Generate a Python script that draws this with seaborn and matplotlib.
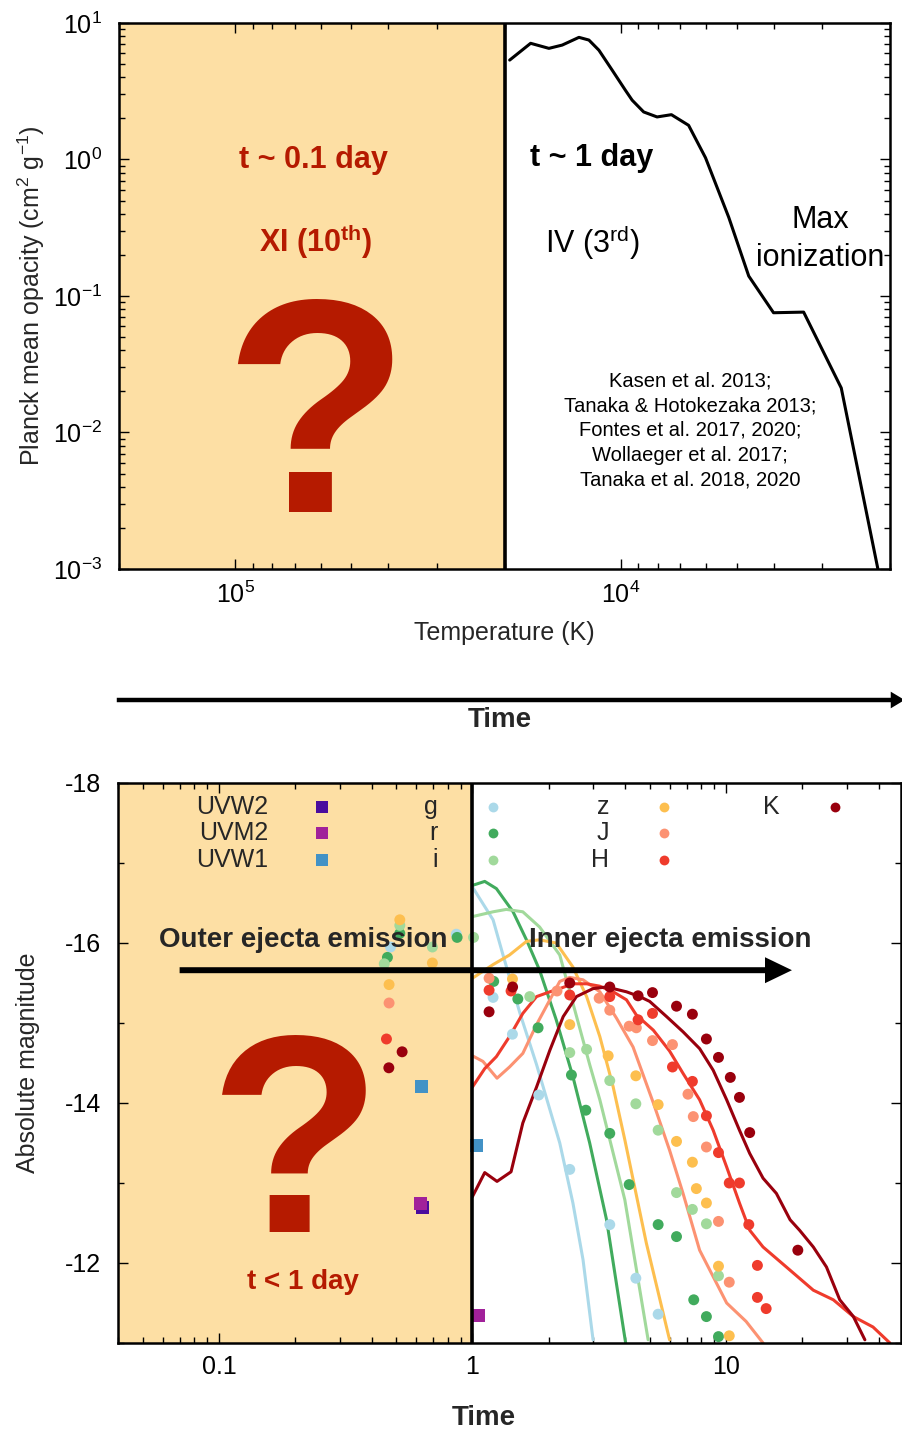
import numpy as np
import pandas as pd
import matplotlib
matplotlib.use("Agg")
import matplotlib.pyplot as plt
import seaborn as sns
from matplotlib.patches import FancyArrowPatch
from matplotlib.ticker import (LogLocator, FixedLocator, NullFormatter,
                               FuncFormatter)

# ---------------- data: top panel (Planck mean opacity) ----------------
opacity_T = [19390, 17110, 15340, 14170, 12820, 12080, 11380, 10510, 9710,
             9330, 8710, 8040, 7380, 6660, 6020, 5240, 4650, 4010, 3350,
             2676, 2150]
opacity_kappa = [5.35, 7.10, 6.52, 6.89, 7.85, 7.50, 6.32, 4.51, 3.21, 2.72,
                 2.23, 2.05, 2.13, 1.78, 1.03, 0.377, 0.140, 0.0754, 0.0762,
                 0.0212, 0.001]
citations = ["Kasen et al. 2013;", "Tanaka & Hotokezaka 2013;",
             "Fontes et al. 2017, 2020;", "Wollaeger et al. 2017;",
             "Tanaka et al. 2018, 2020"]

# ---------------- data: bottom panel (light curves) ----------------
bands = ["UVW2", "UVM2", "UVW1", "g", "r", "i", "z", "J", "H", "K"]
band_colors = ["#4a0c9e", "#a1219a", "#4292c6", "#abd9e9", "#41ab5d",
               "#a1d99b", "#fdbf4f", "#fc9272", "#ef3b2c", "#99000d"]

uvw2_t = [0.638]
uvw2_m = [-12.69]
uvm2_t = [0.624, 1.06]
uvm2_m = [-12.74, -11.34]
uvw1_t = [0.629, 1.04]
uvw1_m = [-14.21, -13.47]

g_t = [0.475, 0.864, 1.206, 1.438, 1.826, 2.42, 3.48, 4.41, 5.40]
g_m = [-15.95, -16.11, -15.32, -14.86, -14.10, -13.17, -12.48, -11.81, -11.36]
r_t = [0.462, 0.517, 0.870, 1.213, 1.51, 1.815, 2.457, 2.80, 3.48, 4.15,
       5.40, 6.38, 7.46, 8.37, 9.34]
r_m = [-15.82, -16.12, -16.07, -15.52, -15.30, -14.94, -14.35, -13.91, -13.62,
       -12.98, -12.48, -12.33, -11.54, -11.33, -11.08]
i_t = [0.449, 0.517, 0.695, 1.01, 1.683, 2.42, 2.82, 3.48, 4.41, 5.40, 6.38,
       7.37, 8.37, 9.34]
i_m = [-15.74, -16.22, -15.95, -16.07, -15.33, -14.63, -14.67, -14.28, -13.99,
       -13.66, -12.88, -12.67, -12.49, -11.84]
z_t = [0.469, 0.517, 0.695, 1.438, 2.42, 3.43, 4.41, 5.40, 6.38, 7.37, 7.64,
       8.37, 9.34, 10.3]
z_m = [-15.48, -16.29, -15.75, -15.55, -14.98, -14.59, -14.34, -13.98, -13.52,
       -13.26, -12.93, -12.75, -11.96, -11.09]
J_t = [0.469, 1.163, 2.155, 3.16, 3.48, 4.15, 4.43, 5.13, 6.15, 7.08, 7.43,
       8.37, 9.34, 10.3]
J_m = [-15.25, -15.56, -15.40, -15.31, -15.16, -14.96, -14.94, -14.78, -14.73,
       -14.11, -13.83, -13.45, -12.52, -11.76]
H_t = [0.458, 1.163, 1.42, 2.42, 3.48, 4.5, 5.13, 6.15, 7.37, 8.37, 9.34,
       10.3, 11.3, 12.3, 13.3, 13.3, 14.4]
H_m = [-14.80, -15.41, -15.40, -15.35, -15.33, -15.04, -15.12, -14.45, -14.27,
       -13.84, -13.38, -13.00, -13.00, -12.48, -11.97, -11.57, -11.43]
K_t = [0.468, 0.528, 1.163, 1.44, 2.42, 3.48, 4.5, 5.13, 6.38, 7.37, 8.37,
       9.34, 10.4, 11.3, 12.4, 19.2]
K_m = [-14.44, -14.64, -15.14, -15.45, -15.50, -15.45, -15.34, -15.38, -15.21,
       -15.11, -14.80, -14.57, -14.32, -14.07, -13.63, -12.16]

# model light curves
g_mod_t = [1.0, 1.206, 1.32, 1.54, 1.79, 2.21, 2.49, 2.73, 2.99]
g_mod_m = [-16.70, -16.29, -15.85, -15.12, -14.48, -13.50, -12.75, -12.04, -11.04]
r_mod_t = [1.0, 1.118, 1.243, 1.446, 1.633, 1.84, 2.14, 2.49, 2.90, 3.38,
           3.93, 4.02]
r_mod_m = [-16.72, -16.77, -16.68, -16.39, -16.04, -15.66, -15.04, -14.33,
           -13.50, -12.54, -11.20, -11.0]
i_mod_t = [1.0, 1.206, 1.36, 1.58, 1.84, 2.21, 2.90, 3.18, 3.99, 4.93]
i_mod_m = [-16.33, -16.39, -16.42, -16.39, -16.20, -15.85, -14.48, -14.04,
           -12.79, -11.04]
z_mod_t = [1.0, 1.206, 1.40, 1.633, 1.84, 2.14, 2.49, 2.82, 3.18, 3.59, 3.99,
           4.85, 5.99]
z_mod_m = [-15.56, -15.73, -15.85, -16.02, -16.04, -16.0, -15.70, -15.33,
           -14.83, -14.20, -13.54, -12.25, -11.04]
J_mod_t = [1.0, 1.10, 1.25, 1.40, 1.58, 1.79, 2.02, 2.21, 2.42, 2.73, 3.18,
           3.70, 4.30, 5.17, 5.99, 6.77, 7.87, 10.06, 12.0, 14.0]
J_mod_m = [-14.59, -14.52, -14.31, -14.45, -14.62, -14.98, -15.29, -15.52,
           -15.57, -15.54, -15.39, -15.06, -14.70, -14.0, -13.41, -12.87,
           -12.16, -11.50, -11.27, -11.0]
H_mod_t = [1.0, 1.118, 1.243, 1.40, 1.58, 1.79, 2.02, 2.21, 2.49, 2.82, 3.18,
           3.59, 4.05, 4.43, 5.17, 5.99, 6.77, 7.87, 8.90, 10.06, 11.3, 12.4,
           14.0, 17.3, 22.1, 26.5, 31.8, 38.0, 44.3]
H_mod_m = [-14.20, -14.43, -14.58, -14.83, -15.12, -15.33, -15.39, -15.43,
           -15.49, -15.49, -15.46, -15.39, -15.29, -15.10, -14.91, -14.65,
           -14.37, -14.04, -13.66, -13.20, -12.75, -12.41, -12.20, -11.95,
           -11.66, -11.54, -11.33, -11.20, -11.0]
K_mod_t = [1.0, 1.118, 1.25, 1.42, 1.58, 1.79, 2.02, 2.28, 2.57, 2.99, 3.38,
           4.05, 4.57, 5.0, 5.83, 6.77, 7.87, 8.90, 10.06, 11.3, 12.4, 14.0,
           15.8, 17.9, 19.5, 22.1, 24.9, 28.1, 31.8, 35.3]
K_mod_m = [-12.83, -13.13, -13.02, -13.14, -13.75, -14.20, -14.66, -15.08,
           -15.33, -15.43, -15.45, -15.39, -15.33, -15.27, -15.08, -14.89,
           -14.68, -14.41, -14.04, -13.66, -13.37, -13.06, -12.87, -12.54,
           -12.41, -12.20, -11.95, -11.54, -11.33, -11.04]

top_xticks = [1e4, 1e5]
bottom_xticks = [0.1, 1, 10]
bottom_yticks = [-18, -16, -14, -12]

# ---------------- style ----------------
sns.set_theme(style="ticks")
plt.rcParams["font.family"] = ["Liberation Sans", "DejaVu Sans"]
plt.rcParams["mathtext.fontset"] = "custom"
plt.rcParams["mathtext.rm"] = "Liberation Sans"
plt.rcParams["mathtext.it"] = "Liberation Sans:italic"
plt.rcParams["mathtext.bf"] = "Liberation Sans:bold"
plt.rcParams["axes.unicode_minus"] = False

SHADE = "#fddfa4"
QRED = "#b51a00"
FS = 18

fig = plt.figure(figsize=(9.02, 14.34), dpi=100)
W, H = 902, 1434
ax1 = fig.add_axes([119 / W, (H - 569) / H, 771 / W, 546 / H])
ax2 = fig.add_axes([118 / W, (H - 1343) / H, 783 / W, 560 / H])

for ax in (ax1, ax2):
    for s in ax.spines.values():
        s.set_linewidth(1.8)
        s.set_color("black")
        s.set_zorder(10)
    ax.set_facecolor("white")

# ---------------- top panel ----------------
top_df = pd.DataFrame({"T": opacity_T, "kappa": opacity_kappa})
ax1.set_xscale("log")
ax1.set_yscale("log")
ax1.axvspan(2e4, 2e5, color=SHADE, lw=0, zorder=0)
sns.lineplot(data=top_df, x="T", y="kappa", ax=ax1, color="black", lw=2.2,
             sort=False, estimator=None, zorder=3)
ax1.axvline(2e4, color="black", lw=2.6, zorder=4)
ax1.set_xlim(2e5, 2e3)
ax1.set_ylim(1e-3, 1e1)
ax1.xaxis.set_major_locator(FixedLocator(top_xticks))
ax1.xaxis.set_minor_locator(LogLocator(base=10, subs=np.arange(2, 10)))
ax1.xaxis.set_minor_formatter(NullFormatter())
ax1.yaxis.set_major_locator(LogLocator(base=10))
ax1.yaxis.set_minor_locator(LogLocator(base=10, subs=np.arange(2, 10)))
ax1.yaxis.set_minor_formatter(NullFormatter())
ax1.tick_params(which="both", direction="in", top=True, right=True,
                width=1.0, colors="black", labelsize=FS)
ax1.tick_params(which="major", length=7)
ax1.tick_params(which="minor", length=4)
ax1.tick_params(axis="x", pad=9)
ax1.tick_params(axis="y", pad=12)
ax1.set_xlabel("Temperature (K)", fontsize=FS, va="center")
ax1.set_ylabel(r"Planck mean opacity (cm$^2$ g$^{-1}$)", fontsize=FS,
               va="center")
ax1.xaxis.set_label_coords(0.5, -0.117)
ax1.yaxis.set_label_coords(-0.114, 0.5)

t1 = ax1.transAxes
ax1.text(0.2516, 0.7491, "t ~ 0.1 day", transform=t1, ha="center",
         va="center", fontsize=22, fontweight="bold", color=QRED)
ax1.text(0.2555, 0.6007, r"XI (10$^{\mathbf{th}}$)", transform=t1,
         ha="center", va="center", fontsize=22, fontweight="bold", color=QRED)
ax1.text(0.2555, 0.1044, "?", transform=t1, ha="center", va="baseline",
         fontsize=219, fontweight="bold", color=QRED)
ax1.text(0.6135, 0.7527, "t ~ 1 day", transform=t1, ha="center",
         va="center", fontsize=22, fontweight="bold", color="black")
ax1.text(0.6135, 0.5989, r"IV (3$^{\mathrm{rd}}$)", transform=t1,
         ha="center", va="center", fontsize=22, color="black")
ax1.text(0.9092, 0.6392, "Max", transform=t1, ha="center", va="center",
         fontsize=22, color="black")
ax1.text(0.9092, 0.5696, "ionization", transform=t1, ha="center",
         va="center", fontsize=22, color="black")
for k, line in enumerate(citations):
    ax1.text(0.7406, (569 - (381 + 24.75 * k)) / 546, line, transform=t1,
             ha="center", va="center", fontsize=14.5, color="black")

# ---------------- middle arrow ----------------
fig.patches.append(FancyArrowPatch(
    (114 / W, (H - 700) / H), (1.006, (H - 700) / H),
    transform=fig.transFigure, figure=fig,
    arrowstyle="simple,head_length=1.0,head_width=1.2,tail_width=0.32",
    mutation_scale=10, color="black", lw=0))
fig.text(500 / W, (H - 720) / H, "Time", ha="center", va="center",
         fontsize=20, fontweight="bold")

# ---------------- bottom panel ----------------
obs = {"UVW2": (uvw2_t, uvw2_m), "UVM2": (uvm2_t, uvm2_m),
       "UVW1": (uvw1_t, uvw1_m), "g": (g_t, g_m), "r": (r_t, r_m),
       "i": (i_t, i_m), "z": (z_t, z_m), "J": (J_t, J_m), "H": (H_t, H_m),
       "K": (K_t, K_m)}
mods = {"g": (g_mod_t, g_mod_m), "r": (r_mod_t, r_mod_m),
        "i": (i_mod_t, i_mod_m), "z": (z_mod_t, z_mod_m),
        "J": (J_mod_t, J_mod_m), "H": (H_mod_t, H_mod_m),
        "K": (K_mod_t, K_mod_m)}
palette = dict(zip(bands, band_colors))

obs_df = pd.concat([pd.DataFrame({"band": b, "t": v[0], "mag": v[1]})
                    for b, v in obs.items()], ignore_index=True)
mod_df = pd.concat([pd.DataFrame({"band": b, "t": v[0], "mag": v[1]})
                    for b, v in mods.items()], ignore_index=True)
uv = obs_df["band"].str.startswith("UV")

ax2.set_xscale("log")
ax2.axvspan(0.04, 1, color=SHADE, lw=0, zorder=0)
sns.lineplot(data=mod_df, x="t", y="mag", hue="band", palette=palette,
             hue_order=[b for b in bands if b in mods], lw=2.2, sort=False,
             estimator=None, legend=False, ax=ax2, zorder=3)
sns.scatterplot(data=obs_df[~uv], x="t", y="mag", hue="band",
                palette=palette, marker="o", s=62, linewidth=0,
                legend=False, ax=ax2, zorder=4)
sns.scatterplot(data=obs_df[uv], x="t", y="mag", hue="band",
                palette=palette, marker="s", s=88, linewidth=0,
                legend=False, ax=ax2, zorder=4)
ax2.axvline(1, color="black", lw=2.6, zorder=5)
ax2.set_xlim(0.04, 49)
ax2.set_ylim(-11, -18)
ax2.xaxis.set_major_locator(FixedLocator(bottom_xticks))
ax2.xaxis.set_major_formatter(FuncFormatter(lambda v, p: f"{v:g}"))
ax2.xaxis.set_minor_locator(LogLocator(base=10, subs=np.arange(2, 10)))
ax2.xaxis.set_minor_formatter(NullFormatter())
ax2.yaxis.set_major_locator(FixedLocator(bottom_yticks))
ax2.yaxis.set_major_formatter(FuncFormatter(lambda v, p: f"{v:.0f}"))
ax2.yaxis.set_minor_locator(FixedLocator([-17, -15, -13, -11]))
ax2.tick_params(which="both", direction="in", top=True, right=True,
                width=1.0, colors="black", labelsize=FS)
ax2.tick_params(which="major", length=7)
ax2.tick_params(which="minor", length=4)
ax2.tick_params(axis="x", pad=9)
ax2.tick_params(axis="y", pad=12)
ax2.set_xlabel("Time", fontsize=20, fontweight="bold", va="center")
ax2.set_ylabel("Absolute magnitude", fontsize=FS, va="center")
ax2.xaxis.set_label_coords(0.4674, -0.134)
ax2.yaxis.set_label_coords(-0.115, 0.5)

t2 = ax2.transAxes
ax2.text(0.2363, 0.7196, "Outer ejecta emission", transform=t2,
         ha="center", va="center", fontsize=20, fontweight="bold", zorder=7)
ax2.text(0.7050, 0.7196, "Inner ejecta emission", transform=t2,
         ha="center", va="center", fontsize=20, fontweight="bold", zorder=7)
ax2.text(0.2261, 0.1982, "?", transform=t2, ha="center", va="baseline",
         fontsize=204, fontweight="bold", color=QRED, zorder=2)
ax2.text(0.2363, 0.1089, "t < 1 day", transform=t2, ha="center",
         va="center", fontsize=20, fontweight="bold", color=QRED)
ax2.annotate("", xy=(18.2, -15.66), xytext=(0.070, -15.66),
             arrowprops=dict(
                 arrowstyle="simple,head_length=1.94,head_width=1.87,"
                            "tail_width=0.43",
                 mutation_scale=10, fc="black", ec="none", lw=0,
                 shrinkA=0, shrinkB=0), zorder=8)

# legend (gnuplot-style key: label right-aligned, symbol to its right)
legend_cols = [["UVW2", "UVM2", "UVW1"], ["g", "r", "i"], ["z", "J", "H"],
               ["K"]]
label_right = [0.1923, 0.4080, 0.6274, 0.8456]
marker_x = [0.2606, 0.4794, 0.6976, 0.9158]
row_y = [0.957, 0.9107, 0.8625]
for c, col in enumerate(legend_cols):
    for rI, b in enumerate(col):
        ax2.text(label_right[c], row_y[rI], b, transform=t2, ha="right",
                 va="center", fontsize=FS, zorder=9)
        ax2.scatter([marker_x[c]], [row_y[rI]], transform=t2,
                    marker="s" if b.startswith("UV") else "o",
                    s=70 if b.startswith("UV") else 50,
                    color=palette[b], linewidth=0, clip_on=False, zorder=9)

fig.savefig("out.png", dpi=100, facecolor="white")
